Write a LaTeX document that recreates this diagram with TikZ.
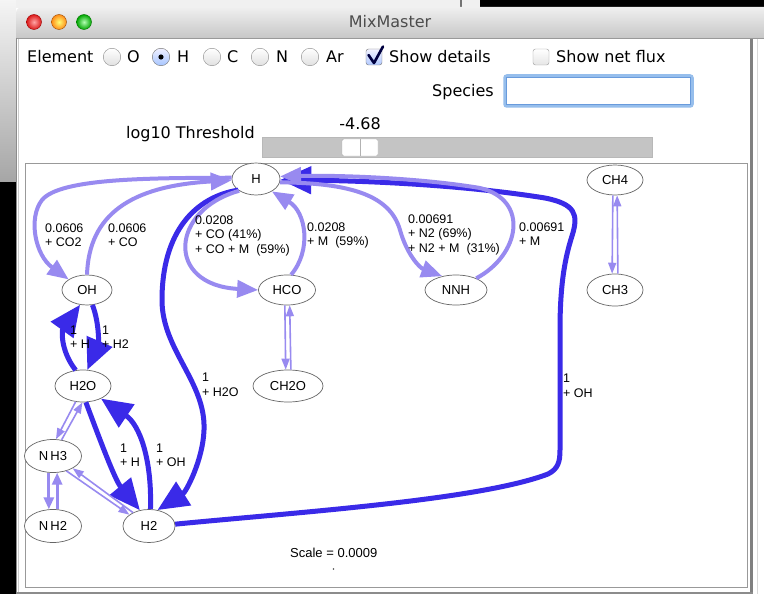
\documentclass[tikz,border=0pt]{standalone}
\usepackage{fontspec}
\setmainfont{DejaVu Sans}
\newfontfamily\grfont{Liberation Sans}
\usetikzlibrary{arrows.meta,shapes.geometric}
\definecolor{lt}{RGB}{152,138,240}
\definecolor{dk}{RGB}{58,42,232}
\definecolor{fieldblue}{RGB}{150,190,236}
\definecolor{fieldline}{RGB}{105,155,220}
\begin{document}
\begin{tikzpicture}[x=1pt,y=-1pt,
  sp/.style={ellipse, draw=black!60, line width=0.7pt, fill=white, inner sep=0pt,
    font=\grfont\fontsize{13}{13}\selectfont},
  lab/.style={anchor=north west, inner sep=0pt, align=left,
    font=\grfont\fontsize{12.5}{14.5}\selectfont},
  ui/.style={font=\fontsize{16}{16}\selectfont, inner sep=0pt, anchor=base west},
  radio/.style={circle, minimum size=17.5pt, inner sep=0pt, draw=black!45,
    top color=white, bottom color=black!12},
  tick/.style={rounded corners=2.5pt, minimum size=16pt, inner sep=0pt},
  dke/.style={draw=dk, line width=5pt, -{Triangle[length=31pt,width=27pt]}},
  lte/.style={draw=lt, line width=4pt, -{Triangle[length=21pt,width=17pt]}},
  mdl/.style={draw=lt, line width=2.8pt, -{Triangle[length=12pt,width=10pt]}},
  thn/.style={draw=lt, line width=1.6pt, -{Triangle[length=11pt,width=8pt]}},
]
\useasboundingbox (0,0) rectangle (764,594);

% ---- desktop around the window ----
\fill[white] (0,0) rectangle (764,594);
\fill[top color=black!4, bottom color=black!35] (0,0) rectangle (16,182);
\fill[black] (0,182) rectangle (16,594);
\fill[black!6] (16,0) rectangle (764,8);
\draw[black!55, line width=1.2pt] (461,0) -- (461,8);
\fill[black] (480,0) rectangle (764,10);

% ---- window frame ----
\shade[top color=black!6, bottom color=black!22]
  (16,38) [rounded corners=6pt] -- (16,7) [sharp corners] -- (764,7) -- (764,38) -- cycle;
\draw[black!40] (16,38.5) -- (764,38.5);
\fill[white] (16,39) rectangle (764,592);
\draw[black!45, line width=1pt] (16.5,38) -- (16.5,594);
\draw[black!20, line width=1.5pt] (18.5,39) -- (18.5,592);
\draw[black!50, line width=3pt] (751.5,39) -- (751.5,594);
\draw[black!15, line width=1pt] (757.5,39) -- (757.5,594);
\draw[black!45, line width=2pt] (16,592.5) -- (753,592.5);

% traffic lights and title
\shadedraw[draw=red!60!black, inner color=red!35!white, outer color=red!85!black!90] (34,22) circle (7.5pt);
\shadedraw[draw=orange!60!black, inner color=yellow!55!white, outer color=orange!90] (59,22) circle (7.5pt);
\shadedraw[draw=green!45!black, inner color=green!30!white, outer color=green!65!black] (84,22) circle (7.5pt);
\node[font=\fontsize{16}{16}\selectfont, text=black!70, inner sep=0pt, anchor=base] (title) at (390,28) {MixMaster};

% ---- controls ----
\node[ui] (elem) at (27,63) {Element};
\node[radio] (rO) at (112,57) {};
\node[ui] (tO) at (127,63) {O};
\node[radio, draw=black!55, top color=blue!6, bottom color=cyan!35!blue!35] (rH) at (161,57) {};
\fill[black] (rH.center) circle (2.6pt);
\node[ui] (tH) at (177,63) {H};
\node[radio] (rC) at (212,57) {};
\node[ui] (tC) at (227,63) {C};
\node[radio] (rN) at (260,57) {};
\node[ui] (tN) at (276,63) {N};
\node[radio] (rAr) at (310,57) {};
\node[ui] (tAr) at (326,63) {Ar};
\node[tick, draw=black!55, top color=blue!5, bottom color=cyan!30!blue!30] (cb1) at (374,57) {};
\draw[line width=2.6pt, color=black!75!blue, line cap=round, line join=round]
  (368.5,55) -- (374,63) -- (383,46.5);
\node[ui] (tdet) at (389,63) {Show details};
\node[tick, draw=black!40, top color=white, bottom color=black!10] (cb2) at (541,57) {};
\node[ui] (tnet) at (556,63) {Show net flux};

\node[ui, anchor=base east] (spec) at (494,96) {Species};
\draw[fieldblue, line width=3.5pt, rounded corners=2pt] (505,76) rectangle (692,106);
\draw[fieldline, line width=0.8pt, fill=white] (506.5,77.5) rectangle (690.5,104.5);

\node[ui, anchor=base east] (thr) at (255,139) {log10 Threshold};
\node[ui, anchor=base] (val) at (360,129) {-4.68};
\draw[fill=black!23, draw=black!28] (262,137) rectangle (652,157);
\draw[fill=white, draw=black!30, rounded corners=1.5pt] (342,139) rectangle (378,156);
\draw[black!30] (360,139) -- (360,156);

% ---- graph panel ----
\draw[black!40, line width=0.8pt] (25,163) rectangle (747,587);

% species
\node[sp, minimum width=48pt, minimum height=32pt] (H) at (256,179) {H};
\node[sp, minimum width=50pt, minimum height=30pt] (OH) at (87,290) {OH};
\node[sp, minimum width=57pt, minimum height=30pt] (HCO) at (287,290) {HCO};
\node[sp, minimum width=62pt, minimum height=30pt] (NNH) at (456,290) {NNH};
\node[sp, minimum width=56pt, minimum height=30pt] (CH4) at (615,180) {CH4};
\node[sp, minimum width=56pt, minimum height=32pt] (CH3) at (615,290) {CH3};
\node[sp, minimum width=70pt, minimum height=32pt] (CH2O) at (288,386) {CH2O};
\node[sp, minimum width=56pt, minimum height=32pt] (H2O) at (83,386) {H2O};
\node[sp, minimum width=57pt, minimum height=33pt] (NH3) at (53,456) {N\,H3};
\node[sp, minimum width=57pt, minimum height=33pt] (NH2) at (53,526) {N\,H2};
\node[sp, minimum width=52pt, minimum height=33pt] (H2) at (149,526) {H2};

% strong fluxes
\draw[dke] (H2.4) .. controls (300,512) and (480,500) .. (548,474)
  .. controls (558,469) and (560,462) .. (560,450) -- (560,330)
  .. controls (560,280) and (566,255) .. (572,236)
  .. controls (579,214) and (575,204) .. (545,198)
  .. controls (470,186) and (380,181) .. (H.358);
\draw[dke] (H.212) .. controls (195,197) and (162,232) .. (162,300)
  .. controls (162,350) and (206,382) .. (204,430)
  .. controls (203,460) and (186,492) .. (H2.62);
\draw[dke] (OH.290) .. controls (100,325) and (98,345) .. (H2O.75);
\draw[dke] (H2O.115) .. controls (60,350) and (62,330) .. (OH.245);
\draw[dke] (H2O.280) .. controls (100,440) and (115,480) .. (H2.120);
\draw[dke] (H2.85) .. controls (152,460) and (140,425) .. (H2O.325);

% weaker fluxes
\draw[lte] (OH.north) .. controls (89,215) and (130,186) .. (H.183);
\draw[lte] (H.177) .. controls (150,178) and (60,178) .. (42,200)
  .. controls (28,218) and (35,255) .. (OH.150);
\draw[lte] (H.215) .. controls (170,210) and (165,285) .. (HCO.west);
\draw[lte] (HCO.75) .. controls (312,250) and (306,212) .. (H.322);
\draw[lte] (H.352) .. controls (350,183) and (390,195) .. (400,230)
  .. controls (407,255) and (420,268) .. (NNH.135);
\draw[lte] (NNH.30) .. controls (520,255) and (530,200) .. (480,188)
  .. controls (420,178) and (340,175) .. (H.6);

\draw[thn] (H2O.245) -- (NH3.80);
\draw[thn] (NH3.62) -- (H2O.268);
\draw[thn] (NH3.312) -- (H2.150);
\draw[thn] (H2.140) -- (NH3.328);
\draw[mdl] (NH3.256) -- (NH2.104);
\draw[mdl] (NH2.76) -- (NH3.284);
\draw[thn] (HCO.262) -- (CH2O.98);
\draw[thn] (CH2O.80) -- (HCO.280);
\draw[thn] (CH4.262) -- (CH3.100);
\draw[thn] (CH3.80) -- (CH4.278);

% flux labels
\node[lab] (l1) at (45,223.5) {0.0606\\+ CO2};
\node[lab] (l2) at (108,223.5) {0.0606\\+ CO};
\node[lab] (l3) at (195,215.5) {0.0208\\+ CO (41\%)\\+ CO + M\ \ (59\%)};
\node[lab] (l4) at (307,222.5) {0.0208\\+ M\ \ (59\%)};
\node[lab] (l5) at (408,214.5) {0.00691\\+ N2 (69\%)\\+ N2 + M\ \ (31\%)};
\node[lab] (l6) at (519,222.5) {0.00691\\+ M};
\node[lab] (l7) at (202,373) {1\\+ H2O};
\node[lab] (l8) at (563,374) {1\\+ OH};
\node[lab] (l9) at (70,325.5) {1\\+ H};
\node[lab] (l10) at (102,325.5) {1\\+ H2};
\node[lab] (l11) at (120,443.5) {1\\+ H};
\node[lab] (l12) at (156,443.5) {1\\+ OH};

\node[font=\grfont\fontsize{13}{13}\selectfont, anchor=west, inner sep=0pt] (scale) at (290,553) {Scale = 0.0009};
\fill[black!70] (333.5,569) circle (0.9pt);
\end{tikzpicture}
\end{document}
